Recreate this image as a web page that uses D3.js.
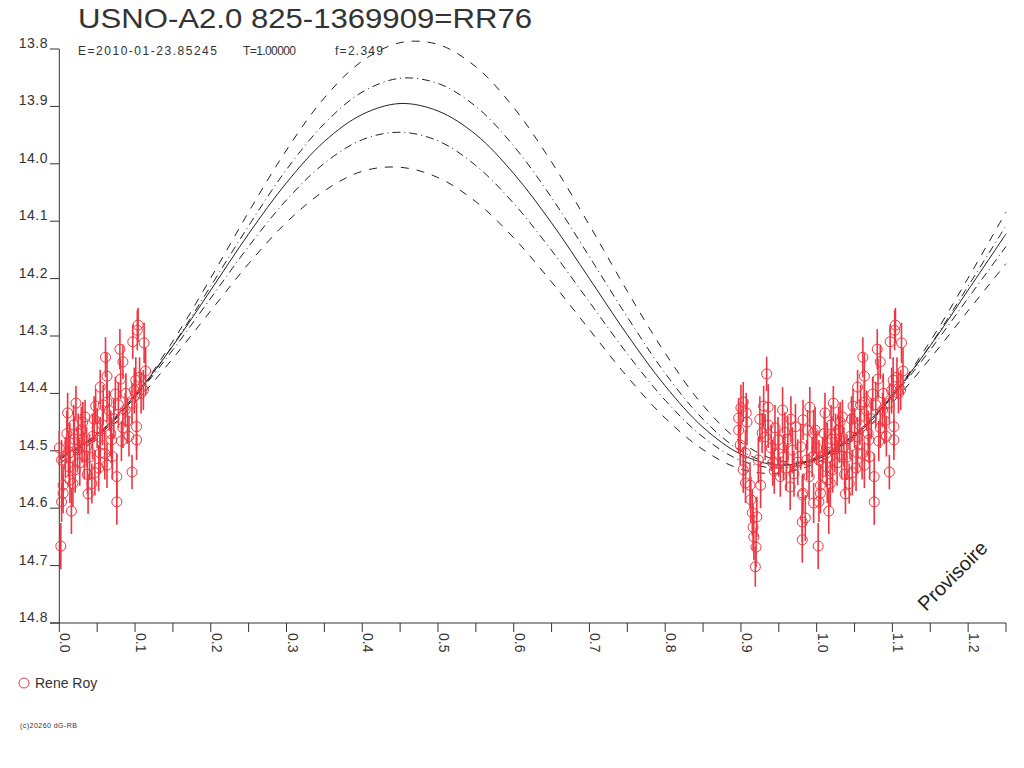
<!DOCTYPE html>
<html>
<head>
<meta charset="utf-8">
<script src="https://cdn.jsdelivr.net/npm/d3@7"></script>
<style>
  body { margin: 0; background: #fff; }
  text { font-family: "Liberation Sans", Arial, sans-serif; fill: #333; }
</style>
</head>
<body>
<div id="chart"></div>
<script>
// fitted light curve, one period, phase step 0.05
const curvePhases = [0.00, 0.05, 0.10, 0.15, 0.20, 0.25, 0.30, 0.35, 0.40, 0.45,
                     0.50, 0.55, 0.60, 0.65, 0.70, 0.75, 0.80, 0.85, 0.90, 0.95];
const fitMid = [14.512, 14.471, 14.403, 14.317, 14.220, 14.122, 14.033, 13.961, 13.914, 13.895,
                13.908, 13.949, 14.017, 14.103, 14.200, 14.298, 14.387, 14.459, 14.506, 14.525];
const fitInnerUp = [14.515, 14.475, 14.406, 14.316, 14.213, 14.108, 14.010, 13.930, 13.875, 13.851,
                    13.860, 13.900, 13.969, 14.059, 14.162, 14.267, 14.365, 14.445, 14.500, 14.524];
const fitInnerLow = [14.515, 14.472, 14.406, 14.324, 14.234, 14.144, 14.063, 13.999, 13.958, 13.945,
                     13.960, 14.003, 14.069, 14.151, 14.241, 14.331, 14.412, 14.476, 14.517, 14.530];
const fitOuterUp = [14.514, 14.475, 14.404, 14.309, 14.199, 14.084, 13.976, 13.885, 13.821, 13.789,
                    13.792, 13.831, 13.902, 13.997, 14.107, 14.222, 14.330, 14.421, 14.485, 14.517];
const fitOuterLow = [14.521, 14.479, 14.416, 14.339, 14.256, 14.174, 14.102, 14.047, 14.013, 14.006,
                     14.024, 14.066, 14.129, 14.206, 14.289, 14.371, 14.443, 14.498, 14.532, 14.539];

// observations (Rene Roy): phase, magnitude, error
const obsPhase = [
  0.104, 0.103, 0.097, 0.112, 0.061, 0.080, 0.084, 0.114, 0.063, 0.081,
  0.054, 0.074, 0.101, 0.111, 0.022, 0.011, 0.048, 0.063, 0.034, 0.019,
  0.087, 0.096, 0.102, 0.084, 0.050, 0.054, 0.069, 0.082, 0.102, 0.030,
  0.014, 0.000, 0.008, 0.036, 0.040, 0.054, 0.027, 0.003, 0.013, 0.021,
  0.063, 0.076, 0.096, 0.037, 0.047, 0.014, 0.005, 0.018, 0.043, 0.038,
  0.005, 0.003, 0.016, 0.076, 0.002, 0.060, 0.068, 0.072, 0.090, 0.092,
  0.029, 0.024, 0.044, 0.057, 0.066, 0.078, 0.108, 0.031, 0.020, 0.010,
  0.046, 0.058, 0.088, 0.099, 0.106, 0.033, 0.052, 0.070, 0.025, 0.012,
  0.934, 0.903, 0.900, 0.907, 0.897, 0.908, 0.930, 0.936, 0.955, 0.991,
  0.897, 0.928, 0.936, 0.949, 0.972, 0.988, 0.998, 0.899, 0.932, 0.906,
  0.923, 0.942, 0.956, 0.968, 0.979, 0.994, 0.903, 0.906, 0.926, 0.965,
  0.981, 0.996, 0.915, 0.921, 0.916, 0.985, 0.981, 0.917, 0.981, 0.920,
  0.919, 0.982, 0.996, 0.987, 0.982, 0.913, 0.944, 0.952, 0.960, 0.962,
  0.975, 0.940, 0.945, 0.925, 0.958, 0.970, 0.990, 0.912, 0.950, 0.966
];
const obsMag = [
  14.281, 14.290, 14.310, 14.312, 14.337, 14.323, 14.345, 14.361, 14.370, 14.375,
  14.389, 14.401, 14.377, 14.394, 14.417, 14.434, 14.422, 14.415, 14.441, 14.455,
  14.429, 14.417, 14.458, 14.460, 14.460, 14.476, 14.481, 14.483, 14.481, 14.481,
  14.486, 14.495, 14.511, 14.493, 14.511, 14.504, 14.521, 14.516, 14.528, 14.533,
  14.525, 14.545, 14.537, 14.541, 14.538, 14.551, 14.560, 14.557, 14.557, 14.575,
  14.574, 14.589, 14.605, 14.589, 14.666, 14.505, 14.470, 14.444, 14.448, 14.475,
  14.463, 14.498, 14.475, 14.455, 14.430, 14.420, 14.400, 14.450, 14.480, 14.470,
  14.445, 14.420, 14.400, 14.395, 14.372, 14.510, 14.530, 14.510, 14.470, 14.505,
  14.366, 14.415, 14.425, 14.434, 14.443, 14.450, 14.422, 14.424, 14.429, 14.424,
  14.464, 14.469, 14.455, 14.481, 14.458, 14.464, 14.464, 14.490, 14.476, 14.504,
  14.516, 14.521, 14.511, 14.499, 14.493, 14.511, 14.533, 14.556, 14.560, 14.563,
  14.577, 14.591, 14.608, 14.615, 14.633, 14.617, 14.624, 14.650, 14.655, 14.668,
  14.702, 14.446, 14.469, 14.516, 14.574, 14.585, 14.535, 14.545, 14.530, 14.480,
  14.520, 14.495, 14.460, 14.445, 14.468, 14.540, 14.545, 14.560, 14.505, 14.445
];
const obsErr = [
  0.030, 0.035, 0.030, 0.035, 0.035, 0.035, 0.030, 0.040, 0.040, 0.035,
  0.030, 0.030, 0.040, 0.035, 0.030, 0.035, 0.030, 0.035, 0.030, 0.035,
  0.030, 0.035, 0.040, 0.035, 0.035, 0.035, 0.040, 0.035, 0.035, 0.040,
  0.035, 0.030, 0.035, 0.035, 0.040, 0.035, 0.040, 0.035, 0.035, 0.040,
  0.040, 0.040, 0.030, 0.035, 0.040, 0.040, 0.035, 0.040, 0.035, 0.035,
  0.035, 0.035, 0.040, 0.040, 0.040, 0.045, 0.040, 0.035, 0.040, 0.035,
  0.040, 0.040, 0.040, 0.035, 0.035, 0.040, 0.035, 0.035, 0.040, 0.040,
  0.040, 0.035, 0.035, 0.040, 0.035, 0.040, 0.040, 0.040, 0.035, 0.040,
  0.030, 0.035, 0.040, 0.035, 0.035, 0.040, 0.035, 0.040, 0.040, 0.035,
  0.040, 0.035, 0.040, 0.040, 0.040, 0.035, 0.040, 0.035, 0.040, 0.040,
  0.040, 0.040, 0.040, 0.040, 0.040, 0.035, 0.040, 0.035, 0.040, 0.040,
  0.035, 0.035, 0.040, 0.035, 0.040, 0.040, 0.035, 0.040, 0.040, 0.035,
  0.035, 0.035, 0.040, 0.035, 0.035, 0.040, 0.040, 0.035, 0.040, 0.040,
  0.040, 0.040, 0.040, 0.040, 0.035, 0.040, 0.040, 0.040, 0.040, 0.040
];

const yTicks = [13.8, 13.9, 14.0, 14.1, 14.2, 14.3, 14.4, 14.5, 14.6, 14.7, 14.8];
const xTicks = [0.0, 0.1, 0.2, 0.3, 0.4, 0.5, 0.6, 0.7, 0.8, 0.9, 1.0, 1.1, 1.2];

const W = 1024, H = 768;
const svg = d3.select("#chart").append("svg")
    .attr("width", W)
    .attr("height", H);

const x = d3.scaleLinear().domain([0, 1.25]).range([59.3, 1006]);
const y = d3.scaleLinear().domain([13.8, 14.8]).range([49, 623]);

const ink = "#333";
const red = "#ee3540";

// title block
svg.append("text")
    .attr("x", 78).attr("y", 28)
    .attr("textLength", 454)
    .attr("lengthAdjust", "spacingAndGlyphs")
    .style("font-size", "28px")
    .text("USNO-A2.0 825-1369909=RR76");
const sub = svg.append("g").style("font-size", "12px");
sub.append("text").attr("x", 78).attr("y", 55)
    .attr("textLength", 139).text("E=2010-01-23.85245");
sub.append("text").attr("x", 243).attr("y", 55)
    .attr("textLength", 53).text("T=1.00000");
sub.append("text").attr("x", 335).attr("y", 55)
    .attr("textLength", 48).text("f=2.349");

// axes
svg.append("line")
    .attr("x1", x(0)).attr("x2", x(0))
    .attr("y1", y(13.8)).attr("y2", y(14.8))
    .attr("stroke", ink);
svg.append("line")
    .attr("x1", 50).attr("x2", x(1.25))
    .attr("y1", y(14.8)).attr("y2", y(14.8))
    .attr("stroke", ink);

const yAxis = svg.append("g");
yAxis.selectAll("line")
    .data(yTicks)
    .join("line")
    .attr("x1", 50).attr("x2", x(0))
    .attr("y1", d => y(d)).attr("y2", d => y(d))
    .attr("stroke", ink);
yAxis.selectAll("text")
    .data(yTicks)
    .join("text")
    .attr("x", 48)
    .attr("y", d => y(d) - 1)
    .attr("text-anchor", "end")
    .style("font-size", "14px")
    .style("letter-spacing", "0.5px")
    .text(d => d3.format(".1f")(d));

const minor = d3.range(0, 26).map(i => i * 0.05);
svg.append("g").selectAll("line")
    .data(minor)
    .join("line")
    .attr("x1", d => x(d)).attr("x2", d => x(d))
    .attr("y1", y(14.8)).attr("y2", y(14.8) + 9)
    .attr("stroke", ink);
svg.append("g").selectAll("text")
    .data(xTicks)
    .join("text")
    .attr("transform", d => `translate(${x(d) + 1},633) rotate(90)`)
    .style("font-size", "14px")
    .text(d => d3.format(".1f")(d));

// fitted curves, one period repeated past phase 1
function extend(vals) {
    const pts = curvePhases.map((p, i) => [p, vals[i]]);
    curvePhases.forEach((p, i) => {
        if (p + 1 <= 1.25) pts.push([p + 1, vals[i]]);
    });
    return pts;
}
const line = d3.line()
    .x(d => x(d[0]))
    .y(d => y(d[1]))
    .curve(d3.curveCatmullRom);

const curves = [
    { v: fitOuterUp, dash: "8,8" },
    { v: fitOuterLow, dash: "8,8" },
    { v: fitInnerUp, dash: "8,4,1,4" },
    { v: fitInnerLow, dash: "8,4,1,4" },
    { v: fitMid, dash: null }
];
svg.append("g")
    .attr("fill", "none")
    .selectAll("path")
    .data(curves)
    .join("path")
    .attr("d", d => line(extend(d.v)))
    .attr("stroke", "#222")
    .attr("stroke-width", 1)
    .attr("stroke-dasharray", d => d.dash);

// observations, points below phase 0.25 shown again at phase + 1
const obs = [];
obsPhase.forEach((p, i) => {
    obs.push({ p: p, m: obsMag[i], e: obsErr[i] });
    if (p + 1 <= 1.25) obs.push({ p: p + 1, m: obsMag[i], e: obsErr[i] });
});

const pts = svg.append("g");
pts.selectAll("line")
    .data(obs)
    .join("line")
    .attr("x1", d => x(d.p)).attr("x2", d => x(d.p))
    .attr("y1", d => y(d.m - d.e)).attr("y2", d => y(d.m + d.e))
    .attr("stroke", red)
    .attr("stroke-width", 1.6);
pts.selectAll("circle")
    .data(obs)
    .join("circle")
    .attr("cx", d => x(d.p))
    .attr("cy", d => y(d.m))
    .attr("r", 5)
    .attr("fill", "none")
    .attr("stroke", red)
    .attr("stroke-width", 1);

// watermark
svg.append("text")
    .attr("transform", "translate(926,612) rotate(-45)")
    .style("font-size", "20px")
    .style("fill", "#222")
    .text("Provisoire");

// legend
svg.append("circle")
    .attr("cx", 24).attr("cy", 683).attr("r", 5)
    .attr("fill", "none")
    .attr("stroke", red);
svg.append("text")
    .attr("x", 35).attr("y", 688)
    .style("font-size", "14px")
    .text("Rene Roy");

svg.append("text")
    .attr("x", 20).attr("y", 728)
    .attr("textLength", 57)
    .style("font-size", "7px")
    .text("(c)20260 dG-RB");
</script>
</body>
</html>
